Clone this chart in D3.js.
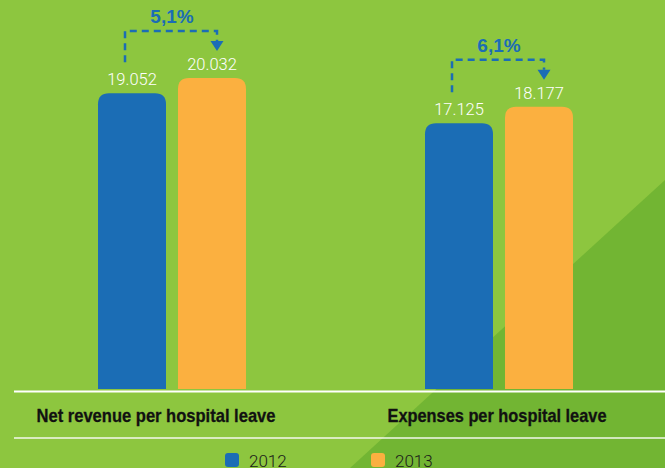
<!DOCTYPE html>
<html>
<head>
<meta charset="utf-8">
<script src="https://cdn.jsdelivr.net/npm/d3@7"></script>
<style>
  html, body { margin: 0; padding: 0; background: #8dc63f; }
  svg { display: block; }
</style>
</head>
<body>
<svg id="chart" width="665" height="468"></svg>
<script>
// Chart data
const categories = ["Net revenue per hospital leave", "Expenses per hospital leave"];
const years = ["2012", "2013"];
const values2012 = [19052, 17125];
const values2013 = [20032, 18177];
const valueLabels2012 = ["19.052", "17.125"];
const valueLabels2013 = ["20.032", "18.177"];
const changeLabels = ["5,1%", "6,1%"];

const W = 665, H = 468;
const colors = { "2012": "#1b6db5", "2013": "#fbb040" };
const bgLight = "#8dc63f", bgDark = "#72b533";

const svg = d3.select("#chart");

// Background with darker diagonal wedge at the lower right
svg.append("rect").attr("width", W).attr("height", H).attr("fill", bgLight);
svg.append("path")
  .attr("d", `M350,${H} L${W},180 L${W},${H} Z`)
  .attr("fill", bgDark);

const baseY = 389;
const y = d3.scaleLinear().domain([0, 20032]).range([baseY, 78]);
const x0 = d3.scaleBand().domain(categories).range([8.5, 662.5]).padding(0);
const x1 = d3.scaleBand().domain(years).range([89.5, 237.5]).paddingInner(0.15).paddingOuter(0);

const rows = categories.map((c, i) => ({
  cat: c,
  bars: [
    { year: "2012", value: values2012[i], label: valueLabels2012[i] },
    { year: "2013", value: values2013[i], label: valueLabels2013[i] }
  ],
  change: changeLabels[i]
}));

// Bar with rounded top corners
function topRounded(x, yTop, w, h, r) {
  r = Math.min(r, w / 2, h);
  return `M${x},${yTop + h} V${yTop + r} Q${x},${yTop} ${x + r},${yTop} H${x + w - r} Q${x + w},${yTop} ${x + w},${yTop + r} V${yTop + h} Z`;
}

const groups = svg.selectAll("g.group").data(rows).join("g")
  .attr("class", "group")
  .attr("transform", d => `translate(${x0(d.cat)},0)`);

groups.selectAll("path.bar").data(d => d.bars).join("path")
  .attr("class", "bar")
  .attr("fill", d => colors[d.year])
  .attr("d", d => topRounded(x1(d.year), y(d.value), x1.bandwidth(), baseY - y(d.value), 11));

groups.selectAll("text.val").data(d => d.bars).join("text")
  .attr("class", "val")
  .attr("x", d => x1(d.year) + x1.bandwidth() / 2)
  .attr("y", d => y(d.value) - 8)
  .attr("text-anchor", "middle")
  .attr("fill", "#ffffff")
  .attr("font-family", "Roboto, 'Liberation Sans', sans-serif")
  .attr("font-weight", 300)
  .attr("font-size", 16.5)
  .text(d => d.label);

// Growth annotation: dashed bracket from the 2012 bar to an arrow over the 2013 bar
groups.each(function (d) {
  const g = d3.select(this);
  const b0 = d.bars[0], b1 = d.bars[1];
  const xa = x1(b0.year) + 27;
  const xb = x1(b1.year) + 39;
  const tipY = y(b1.value) - 27;
  const lineY = tipY - 20;
  const startY = y(b0.value) - 31;
  const blue = colors["2012"];

  g.append("path")
    .attr("d", `M${xa},${startY} V${lineY} H${xb} V${tipY - 10}`)
    .attr("fill", "none")
    .attr("stroke", blue)
    .attr("stroke-width", 2.5)
    .attr("stroke-dasharray", "7,5");

  g.append("path")
    .attr("d", `M${xb - 6.5},${tipY - 10} L${xb + 6.5},${tipY - 10} L${xb},${tipY} Z`)
    .attr("fill", blue);

  g.append("text")
    .attr("x", (xa + xb) / 2 + 1)
    .attr("y", lineY - 8)
    .attr("text-anchor", "middle")
    .attr("fill", blue)
    .attr("font-family", "'Liberation Sans', Arial, sans-serif")
    .attr("font-weight", "bold")
    .attr("font-size", 19)
    .text(d.change);
});

// Category strip between two white rules
svg.append("line").attr("x1", 14).attr("x2", W).attr("y1", 391.5).attr("y2", 391.5)
  .attr("stroke", "#ffffff").attr("stroke-width", 2);
svg.append("line").attr("x1", 14).attr("x2", W).attr("y1", 438).attr("y2", 438)
  .attr("stroke", "#ffffff").attr("stroke-opacity", 0.9).attr("stroke-width", 1.5);

const catWidths = [239, 219];
const catShift = [-16, -2];
svg.selectAll("text.cat").data(categories).join("text")
  .attr("class", "cat")
  .attr("x", (d, i) => x0(d) + x0.bandwidth() / 2 + catShift[i])
  .attr("y", 422)
  .attr("text-anchor", "middle")
  .attr("fill", "#111111")
  .attr("stroke", "#111111")
  .attr("stroke-width", 0.3)
  .attr("font-family", "'Liberation Sans', Arial, sans-serif")
  .attr("font-weight", "bold")
  .attr("font-size", 19)
  .attr("textLength", (d, i) => catWidths[i])
  .attr("lengthAdjust", "spacingAndGlyphs")
  .text(d => d);

// Legend
const legend = svg.selectAll("g.legend").data(years).join("g")
  .attr("class", "legend")
  .attr("transform", (d, i) => `translate(${225 + i * 146},453)`);
legend.append("rect")
  .attr("width", 14).attr("height", 14).attr("rx", 3)
  .attr("fill", d => colors[d]);
legend.append("text")
  .attr("x", 24).attr("y", 13.5)
  .attr("fill", "#1a1a1a")
  .attr("font-family", "Roboto, 'Liberation Sans', sans-serif")
  .attr("font-weight", 300)
  .attr("font-size", 17)
  .text(d => d);
</script>
</body>
</html>
